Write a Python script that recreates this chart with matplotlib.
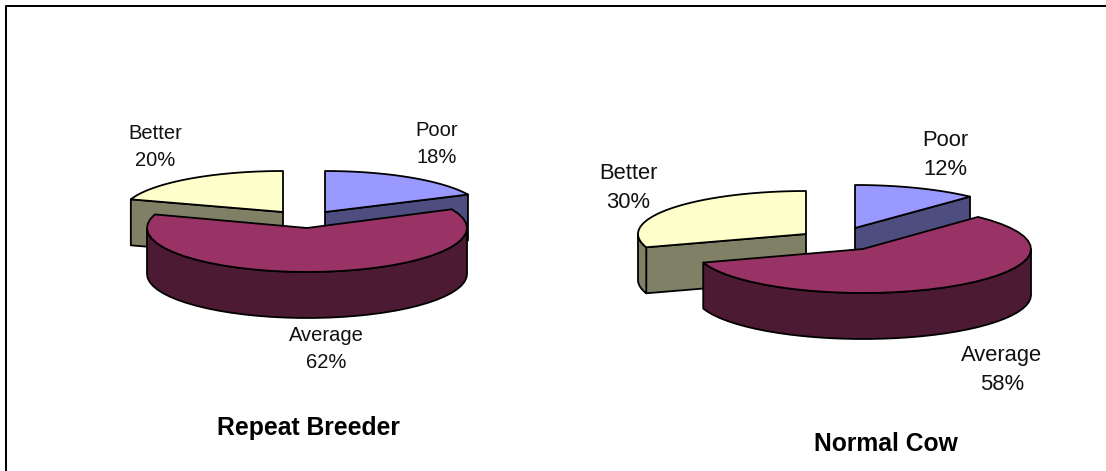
import numpy as np
from matplotlib import pyplot as plt
from matplotlib.patches import Polygon

FONT = ['Liberation Sans', 'DejaVu Sans']

categories = ['Poor', 'Average', 'Better']
repeat_breeder = [18, 62, 20]
normal_cow = [12, 58, 30]

top_colors = ['#9999FF', '#993366', '#FFFFCC']
side_colors = ['#4D4D80', '#4D1A33', '#808066']

# centre of every slice in pixels, slices are pulled apart by hand
repeat_centers = [(325, 212), (307, 228), (283, 212)]
normal_centers = [(855, 228), (863, 249), (806, 234)]
repeat_radii = [(158, 41), (160, 44), (160, 41)]
normal_radii = [(168, 43), (168, 44), (168, 43)]

repeat_labels = [(437, 144), (326, 349), (155, 147)]
normal_labels = [(945, 155), (1002, 370), (628, 188)]


def rim(cx, cy, rx, ry, a, b, n=36):
    # angles are clockwise from twelve o'clock
    t = np.radians(np.linspace(a, b, n))
    return np.column_stack([cx + rx * np.sin(t), cy - ry * np.cos(t)])


def draw_slice(ax, center, radii, a, b, depth, top, side):
    cx, cy = center
    rx, ry = radii
    down = np.array([0, depth])
    apex = np.array([[cx, cy]])

    # cut faces, only the ones turned towards the viewer
    for ang, facing in ((a, a > 180), (b, b < 180)):
        if facing:
            end = rim(cx, cy, rx, ry, ang, ang, 1)
            pts = np.vstack([apex, end, end + down, apex + down])
            ax.add_patch(Polygon(pts, fc=side, ec='black', lw=1.3, joinstyle='round'))

    # outer wall, front half of the ellipse
    lo, hi = max(a, 90), min(b, 270)
    if lo < hi:
        edge = rim(cx, cy, rx, ry, lo, hi)
        pts = np.vstack([edge, (edge + down)[::-1]])
        ax.add_patch(Polygon(pts, fc=side, ec='black', lw=1.3, joinstyle='round'))

    pts = np.vstack([apex, rim(cx, cy, rx, ry, a, b)])
    ax.add_patch(Polygon(pts, fc=top, ec='black', lw=1.3, joinstyle='round'))


def draw_pie(ax, values, centers, radii, labels, depth, size, spacing):
    edges = np.concatenate([[0], np.cumsum(values)]) * 3.6
    # back slices first, the big one sits in front
    for i in (2, 0, 1):
        draw_slice(ax, centers[i], radii[i], edges[i], edges[i + 1], depth,
                   top_colors[i], side_colors[i])
    for i in range(3):
        ax.text(labels[i][0], labels[i][1], f'{categories[i]}\n{values[i]}%',
                ha='center', va='center', fontsize=size, family=FONT,
                color='#111111', linespacing=spacing)


fig = plt.figure(figsize=(11.06, 4.71), dpi=100)
ax = fig.add_axes([0, 0, 1, 1])
ax.set_xlim(0, 1106)
ax.set_ylim(471, 0)
ax.axis('off')

draw_pie(ax, repeat_breeder, repeat_centers, repeat_radii, repeat_labels, 46, 14.5, 1.58)
draw_pie(ax, normal_cow, normal_centers, normal_radii, normal_labels, 46, 15.8, 1.5)

ax.text(308, 428, 'Repeat Breeder', ha='center', va='center', fontsize=17.8,
        fontweight='bold', family=FONT)
ax.text(886, 444, 'Normal Cow', ha='center', va='center', fontsize=17.7,
        fontweight='bold', family=FONT)

# frame is only left and top, the rest is cropped away
ax.plot([6, 6, 1106], [471, 6, 6], color='black', lw=1.45)

fig.savefig('out.png', dpi=100)
